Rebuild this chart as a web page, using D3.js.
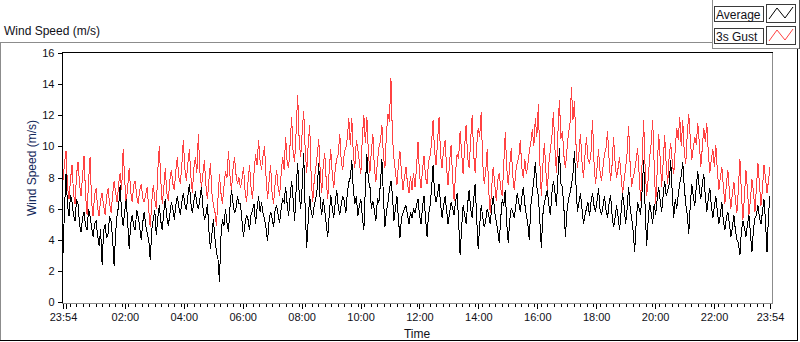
<!DOCTYPE html>
<html>
<head>
<meta charset="utf-8">
<script src="https://cdn.jsdelivr.net/npm/d3@7"></script>
<style>
  body { margin: 0; background: #fff; }
  svg text { font-family: "Liberation Sans", Arial, sans-serif; fill: #101018; }
</style>
</head>
<body>
<svg id="chart" width="800" height="342"></svg>
<script>
// Wind speed log, 23:54 -> 23:54 next day, samples (~3 min apart)
const gust = [
  // 23:54 - 04:00
  7.8, 8.9, 9.7, 7.4, 6.6, 7.9, 8.8, 7.0, 6.3, 8.2, 9.0, 7.6, 6.8, 8.1, 9.4, 6.9, 5.6, 7.8, 9.3, 6.4,
  5.5, 6.9, 7.3, 6.1, 5.5, 6.6, 7.0, 6.2, 5.6, 6.8, 7.3, 6.3, 5.7, 6.9, 7.8, 7.0, 6.4, 7.6, 8.3, 7.2,
  9.8, 7.9, 6.3, 7.4, 8.6, 7.1, 6.4, 7.5, 7.8, 6.8, 6.3, 7.2, 7.6, 6.7, 6.4, 6.9, 7.4, 5.9, 4.8, 6.4,
  7.5, 6.6, 6.0, 8.4, 10.0, 7.8, 6.3, 7.3, 8.6, 7.0, 6.5, 7.8, 8.5, 7.6, 7.2, 8.4, 9.3, 8.0, 7.6, 8.8,
  10.4, 8.6, 7.8, 8.9, 9.8, 8.1, 7.0, 8.6, 9.3, 8.3, 10.8, 8.4, 7.4, 8.2, 9.1, 7.5, 6.6, 7.8, 8.9, 7.0,
  6.2, 5.8, 4.9, 6.6, 8.2, 7.0, 6.3, 7.4, 8.4, 8.0, 9.7, 8.1, 7.2, 8.5, 9.3, 8.2, 7.6, 8.0,
  // 04:00 - 10:00
  7.3, 7.9, 8.7, 7.2, 6.4, 7.7, 8.8, 7.4, 6.6, 8.3, 9.5, 8.8, 10.4, 9.1, 8.5, 9.4, 10.0, 8.0, 6.6, 7.8,
  8.8, 7.0, 6.3, 7.6, 8.5, 7.4, 6.8, 8.2, 9.3, 8.5, 10.6, 9.0, 8.6, 10.2, 11.9, 9.6, 9.0, 11.0, 13.3, 10.4,
  9.3, 10.9, 12.3, 9.8, 8.3, 10.1, 11.4, 8.0, 6.4, 7.8, 8.6, 9.4, 10.5, 8.4, 7.0, 8.8, 9.6, 7.8, 6.6, 8.5,
  9.8, 8.2, 7.3, 8.6, 9.2, 9.5, 10.8, 9.0, 8.5, 9.6, 9.9, 10.5, 11.8, 10.1, 11.8, 9.5, 8.6, 10.4, 9.8, 9.0,
  8.2, 10.6, 12.0, 10.2, 11.9, 9.6, 8.3, 9.7, 10.8, 8.6, 7.7, 9.0, 9.9, 10.3, 11.4, 9.4, 8.6, 10.8, 12.1, 11.6,
  14.4, 10.6, 9.2, 8.4, 7.5, 8.9, 9.7, 8.3, 7.2, 8.0, 8.7, 7.6, 7.0, 8.1, 7.2, 8.3,
  // 10:00 - 16:00
  7.4, 8.6, 10.3, 8.2, 7.3, 8.5, 9.4, 8.0, 7.6, 9.0, 9.4, 10.2, 11.7, 9.7, 8.8, 10.3, 11.9, 9.4, 8.6, 9.8,
  10.4, 8.6, 7.5, 9.0, 10.1, 8.0, 6.5, 8.4, 9.5, 9.2, 11.0, 9.6, 8.2, 10.0, 11.4, 9.3, 8.6, 10.4, 12.0, 9.5,
  8.3, 10.0, 11.2, 10.6, 12.2, 9.0, 7.6, 8.4, 9.8, 7.2, 5.7, 7.4, 8.7, 7.6, 6.5, 7.8, 8.3, 7.3, 6.8, 8.8,
  10.9, 8.6, 7.5, 8.8, 9.9, 8.1, 7.2, 8.4, 9.0, 9.3, 10.4, 8.6, 8.0, 9.2, 8.2, 8.8, 9.7, 10.2, 11.1, 10.0,
  11.8, 10.6, 12.7, 9.0, 6.8, 8.8, 10.2, 8.4, 7.2, 8.9, 9.8, 10.6, 12.2, 9.9, 8.3, 10.8, 13.0, 10.5, 11.0, 9.4,
  8.6, 9.8, 10.8, 11.4, 13.8, 11.7, 12.9, 10.2, 8.6, 9.6, 10.8, 9.0, 8.0, 9.4, 10.6, 9.2,
  // 16:00 - 23:54
  8.9, 9.6, 11.7, 9.0, 7.6, 8.6, 9.8, 8.4, 7.8, 8.7, 9.5, 9.9, 11.0, 9.2, 7.8, 8.8, 10.6, 9.0, 8.0, 8.6,
  9.3, 8.1, 7.0, 7.8, 8.6, 9.6, 11.3, 8.9, 7.4, 8.0, 8.4, 9.1, 9.9, 8.2, 6.5, 9.0, 11.7, 8.6, 6.8, 7.9,
  9.3, 10.2, 11.7, 8.8, 6.3, 8.4, 10.8, 9.2, 7.4, 9.0, 10.7, 8.8, 7.6, 9.4, 10.2, 9.0, 8.2, 9.8, 11.2, 10.4,
  11.9, 10.0, 11.7, 9.6, 8.9, 10.8, 12.1, 10.5, 9.1, 9.9, 10.6, 10.1, 11.5, 10.2, 8.7, 9.9, 11.2, 10.3, 11.5, 9.6,
  8.3, 9.2, 9.8, 8.7, 10.1, 8.4, 7.2, 8.0, 8.7, 7.4, 6.3, 7.6, 8.5, 7.1, 6.0, 7.0, 7.7, 6.6, 5.7, 7.3,
  9.2, 7.0, 5.3, 6.8, 8.5, 7.2, 5.6, 6.6, 7.9, 7.1, 5.8, 7.4, 8.9, 7.6, 6.2, 7.3, 8.8, 8.0, 7.0, 7.8, 8.7
];

const average = [
  // 23:54 - 04:00
  3.1, 6.0, 8.2, 6.2, 5.5, 6.9, 6.4, 5.6, 5.2, 6.6, 6.3, 5.0, 4.5, 5.4, 5.8, 4.9, 4.6, 6.0, 5.5, 4.8,
  4.2, 5.0, 5.2, 4.3, 3.6, 4.7, 2.4, 4.6, 5.0, 4.1, 4.4, 5.5, 5.2, 4.0, 2.3, 4.5, 5.6, 6.2, 7.5, 5.6,
  4.9, 5.8, 6.6, 5.1, 3.4, 5.0, 5.6, 4.9, 4.6, 5.9, 5.5, 4.8, 4.0, 5.1, 5.8, 4.9, 4.4, 4.0, 2.7, 4.6,
  5.3, 5.9, 4.3, 5.4, 6.2, 5.2, 4.6, 5.8, 6.6, 5.5, 4.9, 5.6, 6.4, 6.0, 5.3, 6.2, 6.8, 6.1, 5.6, 6.4,
  7.0, 6.3, 5.9, 6.8, 7.6, 6.4, 5.7, 6.5, 7.1, 6.3, 6.0, 6.6, 7.4, 6.1, 5.3, 5.6, 6.3, 4.6, 3.4, 4.4,
  5.3, 4.1, 3.2, 2.8, 1.3, 4.2, 5.3, 4.9, 6.0, 5.1, 4.5, 6.1, 7.2, 6.4, 5.7, 6.0, 6.8, 6.3,
  // 04:00 - 10:00
  6.3, 5.2, 4.2, 5.0, 5.6, 5.3, 4.6, 5.6, 5.9, 6.3, 5.0, 6.0, 6.8, 5.8, 6.4, 5.7, 5.3, 4.7, 3.9, 5.2,
  5.8, 5.4, 4.8, 5.9, 6.2, 5.6, 5.1, 6.0, 6.6, 6.4, 7.4, 6.3, 5.5, 6.8, 7.8, 6.6, 5.2, 7.3, 8.9, 7.0,
  6.0, 7.4, 9.6, 6.0, 3.5, 5.2, 6.8, 5.8, 5.4, 6.2, 6.6, 7.3, 8.9, 6.4, 5.6, 6.6, 5.9, 5.0, 4.2, 5.6,
  6.9, 6.0, 5.4, 6.4, 7.2, 6.1, 5.6, 6.3, 6.8, 6.5, 5.7, 7.0, 7.7, 8.0, 9.1, 7.2, 6.3, 6.8, 5.5, 6.2,
  6.6, 5.5, 4.6, 7.4, 9.5, 7.8, 7.5, 6.0, 6.5, 5.9, 5.2, 6.6, 6.4, 7.6, 9.2, 6.8, 4.8, 5.8, 6.4, 7.2,
  7.8, 6.9, 5.2, 6.0, 6.8, 5.3, 4.1, 5.4, 5.7, 6.0, 6.2, 5.6, 5.0, 5.8, 5.4, 6.0,
  // 10:00 - 16:00
  5.7, 6.2, 6.6, 5.6, 5.0, 6.1, 6.8, 5.4, 4.2, 5.6, 6.2, 7.2, 8.8, 7.0, 6.4, 6.9, 7.6, 6.3, 5.4, 6.2,
  6.8, 5.9, 5.0, 5.7, 6.4, 6.0, 5.6, 6.5, 7.0, 5.2, 3.0, 4.8, 6.2, 5.6, 5.0, 6.3, 7.2, 6.0, 5.4, 6.6,
  7.6, 5.4, 3.4, 4.9, 6.2, 5.5, 4.8, 5.2, 6.0, 5.6, 5.0, 6.1, 6.8, 5.8, 5.2, 4.6, 3.8, 5.4, 6.6, 6.2,
  7.2, 5.0, 3.8, 5.3, 6.0, 5.8, 5.4, 6.2, 7.0, 6.4, 5.8, 6.7, 7.4, 6.3, 5.6, 5.0, 4.0, 6.2, 7.0, 7.8,
  9.0, 7.4, 6.8, 5.2, 3.5, 5.6, 6.4, 6.8, 7.2, 6.2, 5.6, 7.0, 7.8, 7.1, 6.2, 8.0, 9.9, 7.6, 7.4, 6.0,
  4.2, 5.8, 6.6, 7.0, 7.5, 8.2, 9.7, 7.6, 5.8, 6.4, 7.0, 6.0, 5.0, 5.6, 6.0, 6.4,
  // 16:00 - 23:54
  5.5, 6.4, 7.0, 6.2, 5.8, 6.5, 7.3, 6.0, 5.6, 6.2, 6.8, 5.9, 5.4, 6.3, 6.9, 5.6, 4.8, 5.4, 6.2, 5.5,
  4.6, 5.8, 7.0, 6.2, 5.0, 6.0, 7.4, 6.1, 5.4, 4.6, 3.2, 5.0, 6.4, 6.0, 5.6, 7.2, 9.1, 6.0, 3.6, 5.2,
  6.4, 5.7, 5.0, 6.3, 5.6, 6.6, 7.4, 6.5, 5.8, 6.9, 7.8, 6.8, 7.2, 7.6, 9.1, 7.0, 5.4, 6.6, 6.0, 6.9,
  7.6, 8.1, 9.0, 7.4, 6.3, 5.6, 4.4, 6.2, 7.6, 6.8, 6.2, 7.4, 8.4, 7.3, 6.6, 7.6, 8.2, 6.8, 5.8, 6.7,
  7.3, 6.2, 5.4, 6.1, 6.8, 5.8, 5.0, 5.6, 6.4, 5.2, 4.6, 5.4, 5.8, 5.0, 4.2, 4.8, 5.6, 4.6, 4.0, 3.8,
  3.0, 4.6, 5.2, 4.8, 4.2, 5.0, 5.6, 4.4, 3.2, 4.7, 5.4, 5.6, 6.2, 5.4, 5.0, 5.8, 6.6, 5.2, 3.2, 5.6, 6.8
];

const seriesNames = ['Average', '3s Gust'];
const yTicks = [0, 2, 4, 6, 8, 10, 12, 14, 16];
const xTickLabels = ['23:54', '02:00', '04:00', '06:00', '08:00', '10:00', '12:00',
                     '14:00', '16:00', '18:00', '20:00', '22:00', '23:54'];

const svg = d3.select('#chart');
const colors = { 'Average': '#000000', '3s Gust': '#ff4242' };

const t0 = new Date(2020, 0, 1, 23, 54);
const t1 = d3.timeMinute.offset(t0, 1440);
const plot = { left: 63, right: 770, top: 53, bottom: 302 };

const x = d3.scaleTime().domain([t0, t1]).range([plot.left, plot.right]);
const y = d3.scaleLinear().domain([0, 16]).range([plot.bottom, plot.top]);

// samples are evenly spaced over the day
const timeOf = (i, n) => new Date(+t0 + i * (t1 - t0) / (n - 1));

// label strings -> times (first one is the start, the rest fall on the next day)
const parseHM = d3.timeParse('%H:%M');
const xTickTimes = xTickLabels.map((s, i) => {
  if (i === 0) return t0;
  if (i === xTickLabels.length - 1) return t1;
  const p = parseHM(s);
  return new Date(2020, 0, 2, p.getHours(), p.getMinutes());
});

// ---- outer panel frame
const frame = svg.append('g').attr('shape-rendering', 'crispEdges');
frame.append('line').attr('x1', 0).attr('x2', 712).attr('y1', 42.5).attr('y2', 42.5).attr('stroke', '#8c8c8c');
frame.append('line').attr('x1', 0.5).attr('x2', 0.5).attr('y1', 42).attr('y2', 341).attr('stroke', '#8c8c8c');
frame.append('line').attr('x1', 0).attr('x2', 798).attr('y1', 340.5).attr('y2', 340.5).attr('stroke', '#000');
frame.append('line').attr('x1', 797.5).attr('x2', 797.5).attr('y1', 49).attr('y2', 341).attr('stroke', '#000');
// legend frame
frame.append('line').attr('x1', 712.5).attr('x2', 712.5).attr('y1', 0).attr('y2', 49).attr('stroke', '#8c8c8c');
frame.append('line').attr('x1', 712).attr('x2', 799).attr('y1', 48.5).attr('y2', 48.5).attr('stroke', '#8c8c8c');
frame.append('line').attr('x1', 799.5).attr('x2', 799.5).attr('y1', 0).attr('y2', 49).attr('stroke', '#555');

svg.append('text').attr('x', 4).attr('y', 35).style('font-size', '12px').text('Wind Speed (m/s)');

// ---- plot area
svg.append('defs').append('clipPath').attr('id', 'clip')
  .append('rect').attr('x', plot.left).attr('y', 52).attr('width', 709).attr('height', 251);

const lines = svg.append('g').attr('clip-path', 'url(#clip)');
const lineGen = (n) => d3.line().x((d, i) => x(timeOf(i, n))).y(d => y(d));

lines.append('path').datum(gust)
  .attr('d', lineGen(gust.length))
  .attr('fill', 'none').attr('stroke', colors['3s Gust']).attr('stroke-width', 1)
  .attr('shape-rendering', 'crispEdges');
lines.append('path').datum(average)
  .attr('d', lineGen(average.length))
  .attr('fill', 'none').attr('stroke', colors['Average']).attr('stroke-width', 1)
  .attr('shape-rendering', 'crispEdges');

// plot border: dark top/left, grey bottom/right
frame.append('line').attr('x1', 62).attr('x2', 773).attr('y1', 52.5).attr('y2', 52.5).attr('stroke', '#000');
frame.append('line').attr('x1', 62.5).attr('x2', 62.5).attr('y1', 52).attr('y2', 304).attr('stroke', '#000');
frame.append('line').attr('x1', 62).attr('x2', 773).attr('y1', 303.5).attr('y2', 303.5).attr('stroke', '#8c8c8c');
frame.append('line').attr('x1', 772.5).attr('x2', 772.5).attr('y1', 53).attr('y2', 304).attr('stroke', '#8c8c8c');

// ---- y axis
const yAxis = svg.append('g').attr('transform', 'translate(62.5,0)')
  .call(d3.axisLeft(y).tickValues(yTicks).tickSize(5).tickPadding(3));
yAxis.select('.domain').remove();
yAxis.selectAll('line').attr('stroke', '#000').attr('shape-rendering', 'crispEdges');
yAxis.selectAll('text').style('font-size', '11px').style('font-family', '"Liberation Sans", Arial, sans-serif').attr('fill', '#101018');

svg.append('text')
  .attr('transform', 'translate(36,168) rotate(-90)')
  .attr('text-anchor', 'middle')
  .style('font-size', '12px').style('fill', '#14285a')
  .text('Wind Speed (m/s)');

// ---- x axis: minor ticks, then major ticks with labels
const minorTimes = d3.range(0, 109).map(k => d3.timeSecond.offset(t0, k * 800));
const xMinor = svg.append('g').attr('transform', 'translate(0,303.5)')
  .call(d3.axisBottom(x).tickValues(minorTimes).tickSize(3.5).tickFormat(''));
xMinor.select('.domain').remove();
xMinor.selectAll('line').attr('stroke', '#000').attr('shape-rendering', 'crispEdges');

const majorTimes = xTickTimes.slice();
majorTimes.splice(1, 0, new Date(2020, 0, 2, 0, 0)); // 00:00, unlabelled
const labelFor = new Map(xTickTimes.map((t, i) => [+t, xTickLabels[i]]));
const xMajor = svg.append('g').attr('transform', 'translate(0,303.5)')
  .call(d3.axisBottom(x).tickValues(majorTimes).tickSize(5.5).tickPadding(4)
    .tickFormat(d => labelFor.get(+d) || ''));
xMajor.select('.domain').remove();
xMajor.selectAll('line').attr('stroke', '#000').attr('shape-rendering', 'crispEdges');
xMajor.selectAll('text').style('font-size', '11px').style('font-family', '"Liberation Sans", Arial, sans-serif').attr('fill', '#101018');

svg.append('text').attr('x', 417).attr('y', 338).attr('text-anchor', 'middle')
  .style('font-size', '12px').text('Time');

// ---- legend
const legend = svg.append('g').attr('shape-rendering', 'crispEdges');
seriesNames.forEach((name, i) => {
  const top = 5 + i * 22;
  legend.append('rect').attr('x', 714.5).attr('y', top + 1.5).attr('width', 49).attr('height', 15)
    .attr('fill', '#fff').attr('stroke', '#3a3a3a');
  legend.append('text').attr('x', 716).attr('y', top + 13.5).style('font-size', '12px').text(name);
  legend.append('rect').attr('x', 766.5).attr('y', top - 0.5).attr('width', 29).attr('height', 18)
    .attr('fill', '#fff').attr('stroke', '#3a3a3a');
  legend.append('polyline')
    .attr('points', [[769, top + 14], [777, top + 3], [785, top + 13], [793, top + 2]].join(' '))
    .attr('fill', 'none').attr('stroke', colors[name]).attr('stroke-width', 1)
    .attr('shape-rendering', 'auto');
});
</script>
</body>
</html>
